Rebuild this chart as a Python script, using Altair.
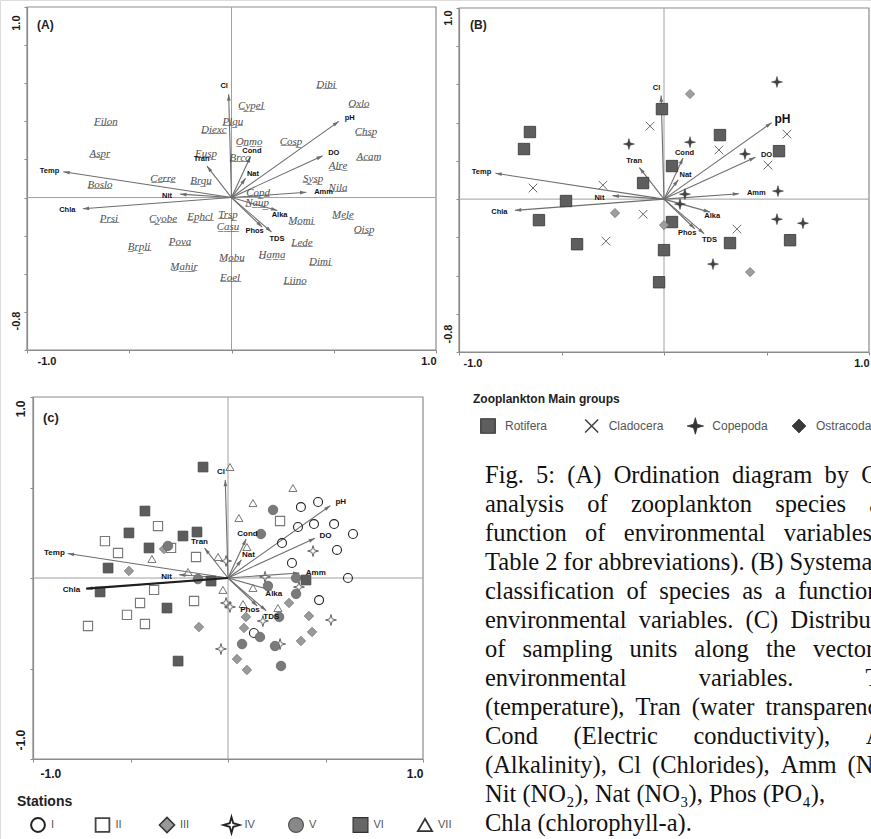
import altair as alt
import numpy as np
import pandas as pd

# ---------------- environmental vectors (shared by the three panels) ----------------
env_names = ["Cl", "pH", "DO", "Temp", "Tran", "Cond", "Nat", "Nit", "Amm", "Chla", "Alka", "Phos", "TDS"]
env_x = [-0.014, 0.525, 0.446, -0.822, -0.120, 0.093, 0.069, -0.251, 0.366, -0.727, 0.224, 0.150, 0.196]
env_y = [0.542, 0.400, 0.219, 0.135, 0.165, 0.215, 0.101, 0.018, 0.028, -0.059, -0.068, -0.155, -0.181]
env_label_x = [-0.036, 0.578, 0.500, -0.890, -0.146, 0.100, 0.105, -0.315, 0.450, -0.803, 0.235, 0.113, 0.222]
env_label_y = [0.584, 0.420, 0.233, 0.140, 0.200, 0.242, 0.126, 0.007, 0.030, -0.067, -0.089, -0.177, -0.215]

# ---------------- panel A : species scores ----------------
species_names = ["Dibi", "Cypel", "Oxlo", "Filon", "Plqu", "Diexc", "Chsp", "Onmo", "Cosp", "Aspr",
                 "Eusp", "Brco", "Acam", "Alre", "Cerre", "Brqu", "Sysp", "Boslo", "Nila", "Copd",
                 "Naup", "Prsi", "Cyobe", "Ephcl", "Trsp", "Momi", "Mele", "Casu", "Oisp", "Pova",
                 "Lede", "Brpli", "Mobu", "Hama", "Dimi", "Mahir", "Eoel", "Liino"]
species_x = [0.462, 0.095, 0.623, -0.614, 0.007, -0.086, 0.658, 0.086, 0.291, -0.643,
             -0.125, 0.042, 0.672, 0.521, -0.335, -0.149, 0.399, -0.643, 0.521, 0.130,
             0.125, -0.599, -0.335, -0.154, -0.017, 0.340, 0.545, -0.017, 0.648, -0.252,
             0.345, -0.452, 0.002, 0.198, 0.433, -0.232, -0.007, 0.311]
species_y = [0.593, 0.483, 0.493, 0.399, 0.399, 0.357, 0.346, 0.289, 0.294, 0.231,
             0.231, 0.210, 0.215, 0.163, 0.100, 0.089, 0.100, 0.068, 0.052, 0.026,
             -0.031, -0.110, -0.110, -0.100, -0.089, -0.121, -0.094, -0.157, -0.168, -0.231,
             -0.236, -0.262, -0.315, -0.304, -0.336, -0.367, -0.420, -0.436]

# ---------------- panel B : main zooplankton groups ----------------
group_names = ["Rotifera", "Cladocera", "Copepoda", "Ostracoda"]
rotifera_x = [-0.010, -0.654, -0.683, 0.273, 0.561, 0.039, -0.102, -0.478, -0.610, 0.039, -0.424, 0.000, 0.322, 0.615, -0.024]
rotifera_y = [0.471, 0.351, 0.262, 0.335, 0.251, 0.173, 0.084, -0.010, -0.110, -0.120, -0.236, -0.267, -0.230, -0.215, -0.435]
cladocera_x = [-0.068, 0.268, 0.600, 0.507, -0.639, -0.298, -0.102, -0.283, 0.356]
cladocera_y = [0.382, 0.257, 0.340, 0.178, 0.058, 0.073, -0.079, -0.220, -0.157]
copepoda_x = [0.551, -0.171, 0.127, 0.395, 0.556, 0.102, 0.078, 0.551, 0.678, 0.239]
copepoda_y = [0.613, 0.288, 0.298, 0.236, 0.042, 0.026, -0.026, -0.105, -0.126, -0.340]
ostracoda_x = [0.127, -0.239, 0.000, 0.420]
ostracoda_y = [0.550, -0.073, -0.136, -0.382]

# ---------------- panel C : sampling units by station ----------------
station_names = ["I", "II", "III", "IV", "V", "VI", "VII"]
st_I_x = [0.374, 0.462, 0.359, 0.441, 0.544, 0.641, 0.277, 0.559, 0.328, 0.615, 0.467, 0.133]
st_I_y = [0.392, 0.420, 0.282, 0.298, 0.298, 0.243, 0.193, 0.155, 0.083, 0.000, -0.122, -0.304]
st_II_x = [-0.359, -0.631, -0.564, -0.292, -0.164, 0.267, -0.379, -0.174, -0.451, -0.518, -0.718, -0.426]
st_II_y = [0.287, 0.204, 0.138, 0.166, 0.116, 0.315, -0.066, -0.127, -0.138, -0.204, -0.265, -0.254]
st_III_x = [-0.328, -0.508, 0.313, 0.415, 0.092, -0.149, 0.082, 0.431, 0.374, 0.046, 0.097]
st_III_y = [0.160, 0.039, -0.138, -0.210, -0.215, -0.271, -0.276, -0.298, -0.348, -0.448, -0.508]
st_IV_x = [-0.010, 0.436, 0.190, 0.364, -0.010, 0.010, 0.528, -0.036, 0.267, 0.179]
st_IV_y = [0.094, 0.149, 0.006, -0.050, -0.138, -0.160, -0.232, -0.392, -0.365, -0.238]
st_V_x = [0.231, 0.169, -0.308, -0.154, 0.349, 0.205, 0.349, 0.262, 0.164, 0.072, 0.241, 0.272]
st_V_y = [0.376, 0.243, 0.177, -0.006, 0.000, -0.044, -0.088, -0.215, -0.326, -0.365, -0.376, -0.486]
st_VI_x = [-0.128, -0.426, -0.508, -0.231, -0.159, -0.405, -0.615, -0.656, -0.087, 0.400, -0.313, -0.256]
st_VI_y = [0.613, 0.370, 0.249, 0.232, 0.254, 0.166, 0.055, -0.077, -0.017, -0.011, -0.166, -0.459]
st_VII_x = [0.010, 0.333, 0.128, 0.056, 0.097, -0.390, -0.051, -0.205, -0.026, 0.128, 0.256, 0.077]
st_VII_y = [0.613, 0.497, 0.414, 0.331, 0.171, 0.105, 0.116, 0.033, -0.066, -0.055, -0.166, -0.144]

# ---------------- axes / labels ----------------
ab_x_domain = [-1.0, 1.0]
ab_y_domain = [-0.8, 1.0]
c_domain = [-1.0, 1.0]
ab_x_ticks = [-1.0, -0.5, 0.0, 0.5, 1.0]
ab_y_ticks = [-0.8, -0.6, -0.4, -0.2, 0.0, 0.2, 0.4, 0.6, 0.8, 1.0]
c_ticks = [-1.0, -0.5, 0.0, 0.5, 1.0]
ab_x_labels = [(-1.0, "-1.0"), (1.0, "1.0")]
ab_y_labels = [(-0.8, "-0.8"), (1.0, "1.0")]
c_labels = [(-1.0, "-1.0"), (1.0, "1.0")]
panel_tags = ["(A)", "(B)", "(c)"]
legend_titles = ["Zooplankton Main groups", "Stations"]

# ---------------- caption ----------------
caption_lines = [
    "Fig. 5: (A) Ordination diagram by CCA",
    "analysis of zooplankton species as a",
    "function of environmental variables (see",
    "Table 2 for abbreviations). (B) Systematic",
    "classification of species as a function of",
    "environmental variables. (C) Distribution",
    "of sampling units along the vectors of",
    "environmental variables. Temp",
    "(temperature), Tran (water transparency),",
    "Cond (Electric conductivity), Alka",
    "(Alkalinity), Cl (Chlorides), Amm (NH\u2084),",
    "Nit (NO\u2082), Nat (NO\u2083), Phos (PO\u2084),",
    "Chla (chlorophyll-a).",
]
# word spacing of the justified lines (in multiples of a space, .5 adds a thin space)
caption_gaps = [2, 3.5, 3, 1, 2, 2, 2.5, 11.5, 1.5, 5.5, 1.5, 1, 1]

# ---------------- page geometry & styles ----------------
W, H = 871, 839
A_X, A_Y = [27, 436], [350, 7]
B_X, B_Y = [459, 869], [352, 8]
C_X, C_Y = [33, 423], [759, 397]

FONT = "Liberation Sans"
SERIF = "Liberation Serif"
FRAME = "#8c8c8c"
ZERO = "#a0a0a0"
ARROW = "#6e6e6e"
HEAD = "M0,0L0.5,1.7L-0.5,1.7Z"
STAR = "M0,-1L0.22,-0.22L1,0L0.22,0.22L0,1L-0.22,0.22L-1,0L-0.22,-0.22Z"
XMARK = "M-1,-1L1,1M-1,1L1,-1"

group_style = {
    "Rotifera": dict(shape="square", size=130, fill="#5e5e5e", stroke="#333333", strokeWidth=0.8),
    "Cladocera": dict(shape=XMARK, size=75, fill="transparent", stroke="#6a6a6a", strokeWidth=1.0),
    "Copepoda": dict(shape=STAR, size=120, fill="#444444", stroke="#333333", strokeWidth=0.5),
    "Ostracoda": dict(shape="diamond", size=85, fill="#9e9e9e", stroke="#777777", strokeWidth=0.8),
}
group_legend_style = {
    "Rotifera": dict(shape="square", size=210, fill="#5e5e5e", stroke="#333333", strokeWidth=1.2),
    "Cladocera": dict(shape=XMARK, size=170, fill="transparent", stroke="#444444", strokeWidth=1.6),
    "Copepoda": dict(shape=STAR, size=270, fill="#333333", stroke="#333333", strokeWidth=0.8),
    "Ostracoda": dict(shape="diamond", size=190, fill="#3a3a3a", stroke="#333333", strokeWidth=0.8),
}
station_style = {
    "I": dict(shape="circle", size=80, fill="transparent", stroke="#222222", strokeWidth=1.1),
    "II": dict(shape="square", size=85, fill="transparent", stroke="#777777", strokeWidth=1.1),
    "III": dict(shape="diamond", size=90, fill="#9a9a9a", stroke="#777777", strokeWidth=0.8),
    "IV": dict(shape=STAR, size=120, fill="transparent", stroke="#666666", strokeWidth=1.0),
    "V": dict(shape="circle", size=90, fill="#7a7a7a", stroke="#666666", strokeWidth=0.8),
    "VI": dict(shape="square", size=95, fill="#5c5c5c", stroke="#444444", strokeWidth=0.8),
    "VII": dict(shape="triangle-up", size=65, fill="transparent", stroke="#777777", strokeWidth=1.0),
}
station_legend_style = {
    "I": dict(shape="circle", size=190, fill="transparent", stroke="#222222", strokeWidth=2.0),
    "II": dict(shape="square", size=190, fill="transparent", stroke="#444444", strokeWidth=1.8),
    "III": dict(shape="diamond", size=230, fill="#999999", stroke="#333333", strokeWidth=1.5),
    "IV": dict(shape=STAR, size=260, fill="transparent", stroke="#222222", strokeWidth=1.8),
    "V": dict(shape="circle", size=220, fill="#888888", stroke="#555555", strokeWidth=1.2),
    "VI": dict(shape="square", size=220, fill="#666666", stroke="#333333", strokeWidth=1.2),
    "VII": dict(shape="triangle-up", size=200, fill="transparent", stroke="#333333", strokeWidth=1.8),
}

# ---------------- tables ----------------
env_df = pd.DataFrame({"name": env_names, "x": env_x, "y": env_y,
                       "lx": env_label_x, "ly": env_label_y})
env_df["x0"] = 0.0
env_df["y0"] = 0.0

species_df = pd.DataFrame({"name": species_names, "x": species_x, "y": species_y})
species_df["uname"] = species_df["name"].map(lambda s: "".join(c + "\u0332" for c in s))

group_df = pd.concat([
    pd.DataFrame({"group": g, "x": gx, "y": gy}) for g, gx, gy in [
        ("Rotifera", rotifera_x, rotifera_y), ("Cladocera", cladocera_x, cladocera_y),
        ("Copepoda", copepoda_x, copepoda_y), ("Ostracoda", ostracoda_x, ostracoda_y)]
], ignore_index=True)

station_df = pd.concat([
    pd.DataFrame({"station": s, "x": sx, "y": sy}) for s, sx, sy in [
        ("I", st_I_x, st_I_y), ("II", st_II_x, st_II_y), ("III", st_III_x, st_III_y),
        ("IV", st_IV_x, st_IV_y), ("V", st_V_x, st_V_y), ("VI", st_VI_x, st_VI_y),
        ("VII", st_VII_x, st_VII_y)]
], ignore_index=True)

one_df = pd.DataFrame({"k": [0]})


def label_expr(pairs):
    expr = "''"
    for v, t in reversed(pairs):
        expr = f"abs(datum.value - ({v})) < 1e-6 ? '{t}' : ({expr})"
    return expr


def make_panel(xdom, ydom, xpx, ypx, xticks, yticks, xlabels, ylabels, font_size, xpad,
               xlab_off, ylab_top, ylab_bot, env_size, ph_size, extra_layers):
    xs = alt.Scale(domain=xdom, range=xpx, nice=False, zero=False)
    ys = alt.Scale(domain=ydom, range=ypx, nice=False, zero=False)
    xa = alt.Axis(orient="bottom", offset=ypx[0] - H, values=xticks, title=None, grid=False,
                  domainColor=FRAME, domainWidth=1.2, tickColor=FRAME, tickSize=3,
                  labelFont=FONT, labelFontSize=font_size, labelFontWeight="bold",
                  labelColor="#1a1a1a", labelPadding=xpad, labelFlush=False,
                  labelOverlap=False, labelBound=False, labelExpr=label_expr(xlabels),
                  labelAlign={"condition": {"test": "datum.value < 0", "value": "left"}, "value": "right"},
                  labelOffset={"condition": {"test": "datum.value < 0", "value": xlab_off}, "value": 0})
    ya = alt.Axis(orient="left", offset=-xpx[0], values=yticks, title=None, grid=False,
                  domainColor=FRAME, domainWidth=1.2, tickColor=FRAME, tickSize=3,
                  labelFont=FONT, labelFontSize=font_size, labelFontWeight="bold",
                  labelColor="#1a1a1a", labelPadding=3, labelFlush=False,
                  labelOverlap=False, labelBound=False, labelExpr=label_expr(ylabels),
                  labelAngle=270, labelBaseline="bottom",
                  labelAlign={"condition": {"test": "datum.value > 0", "value": "right"}, "value": "left"},
                  labelOffset={"condition": {"test": "datum.value > 0", "value": ylab_top}, "value": -ylab_bot})

    def X(f):
        return alt.X(f, type="quantitative", scale=xs, axis=xa)

    def Y(f):
        return alt.Y(f, type="quantitative", scale=ys, axis=ya)

    kx = (xpx[1] - xpx[0]) / (xdom[1] - xdom[0])
    ky = (ypx[0] - ypx[1]) / (ydom[1] - ydom[0])
    edf = env_df.copy()
    edf["angle"] = np.degrees(np.arctan2(edf["x"] * kx, edf["y"] * ky)) % 360

    frame_df = pd.DataFrame({"x0": [xdom[0]], "x1": [xdom[1]], "y0": [ydom[0]], "y1": [ydom[1]],
                             "origin": [0.0]})
    frame = alt.Chart(frame_df).mark_rect(fill="transparent", stroke=FRAME, strokeWidth=1.2).encode(
        x=X("x0"), x2="x1:Q", y=Y("y0"), y2="y1:Q")
    zero_v = alt.Chart(frame_df).mark_rule(color=ZERO, strokeWidth=1).encode(
        x=X("origin"), y=Y("y0"), y2="y1:Q")
    zero_h = alt.Chart(frame_df).mark_rule(color=ZERO, strokeWidth=1).encode(
        y=Y("origin"), x=X("x0"), x2="x1:Q")
    arrows = alt.Chart(edf).mark_rule(color=ARROW, strokeWidth=1.1).encode(
        x=X("x0"), y=Y("y0"), x2="x:Q", y2="y:Q")
    heads = alt.Chart(edf).mark_point(shape=HEAD, filled=True, color=ARROW, size=55, opacity=1).encode(
        x=X("x"), y=Y("y"), angle=alt.Angle("angle:Q", scale=None))
    if ph_size:
        lab_size = alt.condition(alt.datum.name == "pH", alt.value(ph_size), alt.value(env_size))
    else:
        lab_size = alt.value(env_size)
    labels = alt.Chart(edf).mark_text(font=FONT, fontWeight="bold", color="#111111").encode(
        x=X("lx"), y=Y("ly"), text="name:N", size=lab_size)

    layers = [frame, zero_v, zero_h, arrows, heads]
    layers += [lyr(X, Y, edf) for lyr in extra_layers]
    layers += [labels]
    return alt.layer(*layers)


# ---- panel A ----
def species_layer(X, Y, edf):
    return alt.Chart(species_df).mark_text(font=SERIF, fontStyle="italic", fontSize=11,
                                           color="#4f4f4f").encode(x=X("x"), y=Y("y"), text="uname:N")


panel_a = make_panel(ab_x_domain, ab_y_domain, A_X, A_Y, ab_x_ticks, ab_y_ticks, ab_x_labels,
                     ab_y_labels, 11, 2, 10, 8, 20, 7.5, None, [species_layer])


# ---- panel B ----
def group_layers():
    out = []
    for g in group_names:
        st = group_style[g]
        out.append(lambda X, Y, edf, g=g, st=st: alt.Chart(group_df).transform_filter(
            alt.datum.group == g).mark_point(opacity=1, fillOpacity=1, **st).encode(x=X("x"), y=Y("y")))
    return out


panel_b = make_panel(ab_x_domain, ab_y_domain, B_X, B_Y, ab_x_ticks, ab_y_ticks, ab_x_labels,
                     ab_y_labels, 11, 2, 4, 2, 9, 7.5, 12, group_layers())


# ---- panel C ----
def station_layers():
    out = []
    for s in station_names:
        st = station_style[s]
        out.append(lambda X, Y, edf, s=s, st=st: alt.Chart(station_df).transform_filter(
            alt.datum.station == s).mark_point(opacity=1, fillOpacity=1, **st).encode(x=X("x"), y=Y("y")))
    out.append(lambda X, Y, edf: alt.Chart(edf).transform_filter(alt.datum.name == "Chla").mark_rule(
        color="#1e1e1e", strokeWidth=2.2).encode(x=X("x0"), y=Y("y0"), x2="x:Q", y2="y:Q"))
    return out


panel_c = make_panel(c_domain, c_domain, C_X, C_Y, c_ticks, c_ticks, c_labels, c_labels,
                     12, 6, 7, 3, 9, 8, None, station_layers())

# ---------------- panel tags ----------------
tag_pos = [(37, 25), (470, 25), (43, 418)]
tag_sizes = [12, 12, 13]
tags = [alt.Chart(one_df).mark_text(align="left", baseline="middle", font=FONT, fontWeight="bold",
                                    fontSize=sz, color="#222222", text=t).encode(
    x=alt.value(px), y=alt.value(py)) for t, (px, py), sz in zip(panel_tags, tag_pos, tag_sizes)]

# ---------------- legends ----------------
grp_leg_df = pd.DataFrame({"group": group_names})
gx = alt.X("group:N", sort=group_names, axis=None,
           scale=alt.Scale(type="point", domain=group_names, range=[488, 799], padding=0))
grp_leg_layers = [alt.Chart(grp_leg_df).transform_filter(alt.datum.group == g).mark_point(
    opacity=1, fillOpacity=1, **group_legend_style[g]).encode(x=gx, y=alt.value(426)) for g in group_names]
grp_leg_text = alt.Chart(grp_leg_df).mark_text(align="left", baseline="middle", dx=17, font=FONT,
                                               fontSize=12, color="#555555").encode(
    x=gx, y=alt.value(426), text="group:N")
grp_leg_title = alt.Chart(one_df).mark_text(align="left", baseline="middle", font=FONT, fontSize=12,
                                            fontWeight="bold", color="#222222", text=legend_titles[0]).encode(
    x=alt.value(473), y=alt.value(399))
legend_b = alt.layer(*grp_leg_layers, grp_leg_text)

st_leg_df = pd.DataFrame({"station": station_names})
sx = alt.X("station:N", sort=station_names, axis=None,
           scale=alt.Scale(type="point", domain=station_names, range=[38, 425], padding=0))
st_leg_layers = [alt.Chart(st_leg_df).transform_filter(alt.datum.station == s).mark_point(
    opacity=1, fillOpacity=1, **station_legend_style[s]).encode(x=sx, y=alt.value(825)) for s in station_names]
st_leg_text = alt.Chart(st_leg_df).mark_text(align="left", baseline="middle", dx=13, font=FONT,
                                             fontSize=11, color="#555555").encode(
    x=sx, y=alt.value(825), text="station:N")
st_leg_title = alt.Chart(one_df).mark_text(align="left", baseline="middle", font=FONT, fontSize=14,
                                           fontWeight="bold", color="#222222", text=legend_titles[1]).encode(
    x=alt.value(17), y=alt.value(802))
legend_c = alt.layer(*st_leg_layers, st_leg_text)


# ---------------- caption ----------------
def spread(line, gap):
    n = int(gap)
    sep = " " + "\u00a0" * (n - 1) + ("\u2009" if gap - n >= 0.5 else "")
    return sep.join(line.split(" "))


cap_df = pd.DataFrame({
    "line": [spread(l, g) for l, g in zip(caption_lines, caption_gaps)],
    "row": list(range(len(caption_lines))),
})
caption = alt.Chart(cap_df).mark_text(align="left", baseline="middle", font=SERIF, fontSize=24.5,
                                      color="#111111").encode(
    x=alt.value(485),
    y=alt.Y("row:Q", axis=None, scale=alt.Scale(domain=[0, 12], range=[476, 824], nice=False, zero=False)),
    text="line:N")

# ---------------- one page ----------------
chart = alt.layer(
    panel_a, panel_b, panel_c, legend_b, legend_c, caption,
    grp_leg_title, st_leg_title, *tags
).resolve_scale(x="independent", y="independent").properties(
    width=W, height=H, padding=0, autosize=alt.AutoSizeParams(type="none")
).configure_view(stroke="transparent").configure(background="white", font=FONT)

chart.save("out.html", embed_options={"renderer": "svg", "actions": False})
